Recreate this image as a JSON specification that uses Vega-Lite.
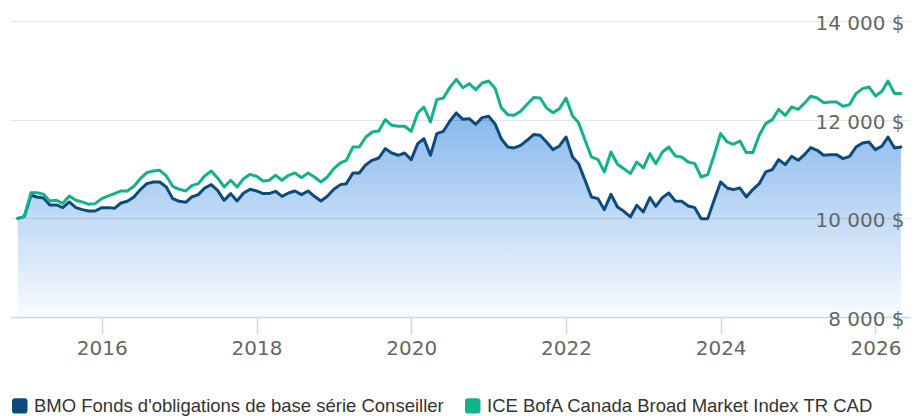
{
  "$schema": "https://vega.github.io/schema/vega-lite/v6.json",
  "autosize": {"type": "none"},
  "padding": {"left": 10, "top": 21, "right": 10, "bottom": 99},
  "width": 900,
  "height": 296,
  "background": "white",
  "config": {"view": {"stroke": null}},
  "data": {"values": [
    {"d":"2014-12-01","bmo":10000,"ice":10000},
    {"d":"2015-01-01","bmo":10041,"ice":10041},
    {"d":"2015-02-01","bmo":10467,"ice":10521},
    {"d":"2015-03-01","bmo":10433,"ice":10521},
    {"d":"2015-04-01","bmo":10413,"ice":10487},
    {"d":"2015-05-01","bmo":10271,"ice":10352},
    {"d":"2015-06-01","bmo":10271,"ice":10365},
    {"d":"2015-07-01","bmo":10217,"ice":10305},
    {"d":"2015-08-01","bmo":10332,"ice":10453},
    {"d":"2015-09-01","bmo":10217,"ice":10365},
    {"d":"2015-10-01","bmo":10176,"ice":10332},
    {"d":"2015-11-01","bmo":10149,"ice":10284},
    {"d":"2015-12-01","bmo":10149,"ice":10298},
    {"d":"2016-01-01","bmo":10217,"ice":10399},
    {"d":"2016-02-01","bmo":10217,"ice":10453},
    {"d":"2016-03-01","bmo":10203,"ice":10501},
    {"d":"2016-04-01","bmo":10311,"ice":10555},
    {"d":"2016-05-01","bmo":10345,"ice":10555},
    {"d":"2016-06-01","bmo":10433,"ice":10649},
    {"d":"2016-07-01","bmo":10582,"ice":10804},
    {"d":"2016-08-01","bmo":10703,"ice":10926},
    {"d":"2016-09-01","bmo":10737,"ice":10960},
    {"d":"2016-10-01","bmo":10737,"ice":10974},
    {"d":"2016-11-01","bmo":10636,"ice":10859},
    {"d":"2016-12-01","bmo":10399,"ice":10649},
    {"d":"2017-01-01","bmo":10345,"ice":10588},
    {"d":"2017-02-01","bmo":10325,"ice":10555},
    {"d":"2017-03-01","bmo":10433,"ice":10663},
    {"d":"2017-04-01","bmo":10480,"ice":10703},
    {"d":"2017-05-01","bmo":10615,"ice":10859},
    {"d":"2017-06-01","bmo":10683,"ice":10960},
    {"d":"2017-07-01","bmo":10568,"ice":10818},
    {"d":"2017-08-01","bmo":10365,"ice":10636},
    {"d":"2017-09-01","bmo":10501,"ice":10771},
    {"d":"2017-10-01","bmo":10352,"ice":10636},
    {"d":"2017-11-01","bmo":10514,"ice":10804},
    {"d":"2017-12-01","bmo":10588,"ice":10892},
    {"d":"2018-01-01","bmo":10555,"ice":10852},
    {"d":"2018-02-01","bmo":10501,"ice":10757},
    {"d":"2018-03-01","bmo":10501,"ice":10771},
    {"d":"2018-04-01","bmo":10548,"ice":10872},
    {"d":"2018-05-01","bmo":10446,"ice":10771},
    {"d":"2018-06-01","bmo":10514,"ice":10872},
    {"d":"2018-07-01","bmo":10555,"ice":10919},
    {"d":"2018-08-01","bmo":10480,"ice":10825},
    {"d":"2018-09-01","bmo":10555,"ice":10919},
    {"d":"2018-10-01","bmo":10446,"ice":10838},
    {"d":"2018-11-01","bmo":10352,"ice":10737},
    {"d":"2018-12-01","bmo":10446,"ice":10838},
    {"d":"2019-01-01","bmo":10588,"ice":11007},
    {"d":"2019-02-01","bmo":10683,"ice":11122},
    {"d":"2019-03-01","bmo":10703,"ice":11176},
    {"d":"2019-04-01","bmo":10919,"ice":11446},
    {"d":"2019-05-01","bmo":10919,"ice":11446},
    {"d":"2019-06-01","bmo":11088,"ice":11649},
    {"d":"2019-07-01","bmo":11176,"ice":11751},
    {"d":"2019-08-01","bmo":11223,"ice":11771},
    {"d":"2019-09-01","bmo":11413,"ice":12001},
    {"d":"2019-10-01","bmo":11325,"ice":11886},
    {"d":"2019-11-01","bmo":11278,"ice":11866},
    {"d":"2019-12-01","bmo":11325,"ice":11866},
    {"d":"2020-01-01","bmo":11190,"ice":11764},
    {"d":"2020-02-01","bmo":11514,"ice":12136},
    {"d":"2020-03-01","bmo":11615,"ice":12257},
    {"d":"2020-04-01","bmo":11278,"ice":11953},
    {"d":"2020-05-01","bmo":11717,"ice":12406},
    {"d":"2020-06-01","bmo":11764,"ice":12440},
    {"d":"2020-07-01","bmo":11967,"ice":12649},
    {"d":"2020-08-01","bmo":12136,"ice":12818},
    {"d":"2020-09-01","bmo":12007,"ice":12649},
    {"d":"2020-10-01","bmo":12021,"ice":12730},
    {"d":"2020-11-01","bmo":11906,"ice":12609},
    {"d":"2020-12-01","bmo":12041,"ice":12744},
    {"d":"2021-01-01","bmo":12068,"ice":12784},
    {"d":"2021-02-01","bmo":11906,"ice":12629},
    {"d":"2021-03-01","bmo":11615,"ice":12244},
    {"d":"2021-04-01","bmo":11446,"ice":12102},
    {"d":"2021-05-01","bmo":11426,"ice":12088},
    {"d":"2021-06-01","bmo":11480,"ice":12170},
    {"d":"2021-07-01","bmo":11582,"ice":12311},
    {"d":"2021-08-01","bmo":11697,"ice":12447},
    {"d":"2021-09-01","bmo":11683,"ice":12440},
    {"d":"2021-10-01","bmo":11548,"ice":12237},
    {"d":"2021-11-01","bmo":11392,"ice":12142},
    {"d":"2021-12-01","bmo":11467,"ice":12224},
    {"d":"2022-01-01","bmo":11649,"ice":12440},
    {"d":"2022-02-01","bmo":11244,"ice":12075},
    {"d":"2022-03-01","bmo":11109,"ice":11940},
    {"d":"2022-04-01","bmo":10771,"ice":11582},
    {"d":"2022-05-01","bmo":10433,"ice":11244},
    {"d":"2022-06-01","bmo":10399,"ice":11190},
    {"d":"2022-07-01","bmo":10176,"ice":10940},
    {"d":"2022-08-01","bmo":10487,"ice":11345},
    {"d":"2022-09-01","bmo":10230,"ice":11095},
    {"d":"2022-10-01","bmo":10142,"ice":11007},
    {"d":"2022-11-01","bmo":10028,"ice":10906},
    {"d":"2022-12-01","bmo":10264,"ice":11142},
    {"d":"2023-01-01","bmo":10129,"ice":11021},
    {"d":"2023-02-01","bmo":10419,"ice":11311},
    {"d":"2023-03-01","bmo":10244,"ice":11109},
    {"d":"2023-04-01","bmo":10419,"ice":11345},
    {"d":"2023-05-01","bmo":10514,"ice":11446},
    {"d":"2023-06-01","bmo":10352,"ice":11264},
    {"d":"2023-07-01","bmo":10345,"ice":11244},
    {"d":"2023-08-01","bmo":10251,"ice":11142},
    {"d":"2023-09-01","bmo":10217,"ice":11109},
    {"d":"2023-10-01","bmo":9994,"ice":10838},
    {"d":"2023-11-01","bmo":9994,"ice":10886},
    {"d":"2023-12-01","bmo":10365,"ice":11278},
    {"d":"2024-01-01","bmo":10737,"ice":11717},
    {"d":"2024-02-01","bmo":10615,"ice":11548},
    {"d":"2024-03-01","bmo":10582,"ice":11501},
    {"d":"2024-04-01","bmo":10615,"ice":11568},
    {"d":"2024-05-01","bmo":10433,"ice":11332},
    {"d":"2024-06-01","bmo":10582,"ice":11332},
    {"d":"2024-07-01","bmo":10703,"ice":11683},
    {"d":"2024-08-01","bmo":10940,"ice":11920},
    {"d":"2024-09-01","bmo":10987,"ice":12001},
    {"d":"2024-10-01","bmo":11190,"ice":12210},
    {"d":"2024-11-01","bmo":11088,"ice":12088},
    {"d":"2024-12-01","bmo":11257,"ice":12257},
    {"d":"2025-01-01","bmo":11176,"ice":12210},
    {"d":"2025-02-01","bmo":11298,"ice":12338},
    {"d":"2025-03-01","bmo":11433,"ice":12474},
    {"d":"2025-04-01","bmo":11379,"ice":12440},
    {"d":"2025-05-01","bmo":11278,"ice":12345},
    {"d":"2025-06-01","bmo":11291,"ice":12359},
    {"d":"2025-07-01","bmo":11291,"ice":12359},
    {"d":"2025-08-01","bmo":11210,"ice":12271},
    {"d":"2025-09-01","bmo":11257,"ice":12305},
    {"d":"2025-10-01","bmo":11446,"ice":12528},
    {"d":"2025-11-01","bmo":11528,"ice":12629},
    {"d":"2025-12-01","bmo":11548,"ice":12663},
    {"d":"2026-01-01","bmo":11392,"ice":12480},
    {"d":"2026-02-01","bmo":11467,"ice":12575},
    {"d":"2026-03-01","bmo":11649,"ice":12784},
    {"d":"2026-04-01","bmo":11426,"ice":12528},
    {"d":"2026-05-01","bmo":11446,"ice":12528}
  ]},
  "encoding": {
    "x": {
      "field": "d", "type": "temporal",
      "scale": {"domain": [{"year": 2014, "month": 10, "date": 25}, {"year": 2026, "month": 6, "date": 13}]},
      "axis": {
        "title": null, "grid": false, "format": "%Y",
        "values": [{"year": 2016}, {"year": 2018}, {"year": 2020}, {"year": 2022}, {"year": 2024}, {"year": 2026}],
        "domainColor": "#ccd6eb", "domainWidth": 1.5,
        "tickColor": "#ccd6eb", "tickWidth": 1.5, "tickSize": 17,
        "labelFont": "DejaVu Sans", "labelFontSize": 20, "labelColor": "#666666",
        "labelBaseline": "top", "labelPadding": 4.5, "labelFlush": false, "labelOverlap": false,
        "zindex": 1
      }
    }
  },
  "layer": [
    {
      "mark": {
        "type": "area",
        "color": {
          "gradient": "linear", "x1": 0, "y1": 0, "x2": 0, "y2": 1,
          "stops": [
            {"offset": 0, "color": "rgba(62,140,225,0.62)"},
            {"offset": 1, "color": "rgba(62,140,225,0.03)"}
          ]
        }
      },
      "encoding": {
        "y": {
          "field": "bmo", "type": "quantitative",
          "scale": {"domain": [8000, 14000], "nice": false, "zero": false},
          "axis": {
            "title": null, "orient": "right",
            "values": [8000, 10000, 12000, 14000],
            "labelExpr": "replace(format(datum.value, ','), ',', ' ') + ' $'",
            "domain": false, "ticks": false,
            "grid": true, "gridColor": "rgba(0,0,0,0.1)", "gridWidth": 1,
            "labelFont": "DejaVu Sans", "labelFontSize": 20, "labelColor": "#666666",
            "labelAlign": "right", "labelBaseline": "middle", "labelPadding": -6, "labelOffset": 2.5,
            "zindex": 1
          }
        },
        "y2": {"datum": 8000}
      }
    },
    {
      "transform": [{"fold": ["bmo", "ice"], "as": ["series", "value"]}],
      "mark": {"type": "line", "strokeWidth": 3, "strokeJoin": "round", "strokeCap": "round"},
      "encoding": {
        "y": {"field": "value", "type": "quantitative"},
        "color": {
          "field": "series", "type": "nominal",
          "scale": {"domain": ["bmo", "ice"], "range": ["#0c4b7c", "#12b38b"]},
          "legend": {
            "title": null, "orient": "none", "legendX": 0.5, "legendY": 375.5,
            "direction": "horizontal", "columns": 2, "padding": 0,
            "symbolType": "M-1,-0.6Q-1,-1,-0.6,-1L0.6,-1Q1,-1,1,-0.6L1,0.6Q1,1,0.6,1L-0.6,1Q-1,1,-1,0.6Z",
            "symbolSize": 240, "symbolStrokeWidth": 0,
            "labelFont": "Liberation Sans", "labelFontSize": 18.5, "labelColor": "#333333",
            "labelOffset": 5, "columnPadding": 19, "labelLimit": 1000,
            "labelExpr": "datum.label == 'bmo' ? \"BMO Fonds d'obligations de base série Conseiller\" : 'ICE BofA Canada Broad Market Index TR CAD'",
            "encode": {"symbols": {"update": {"fill": {"scale": "color", "field": "value"}, "opacity": {"value": 1}}}}
          }
        }
      }
    }
  ]
}
